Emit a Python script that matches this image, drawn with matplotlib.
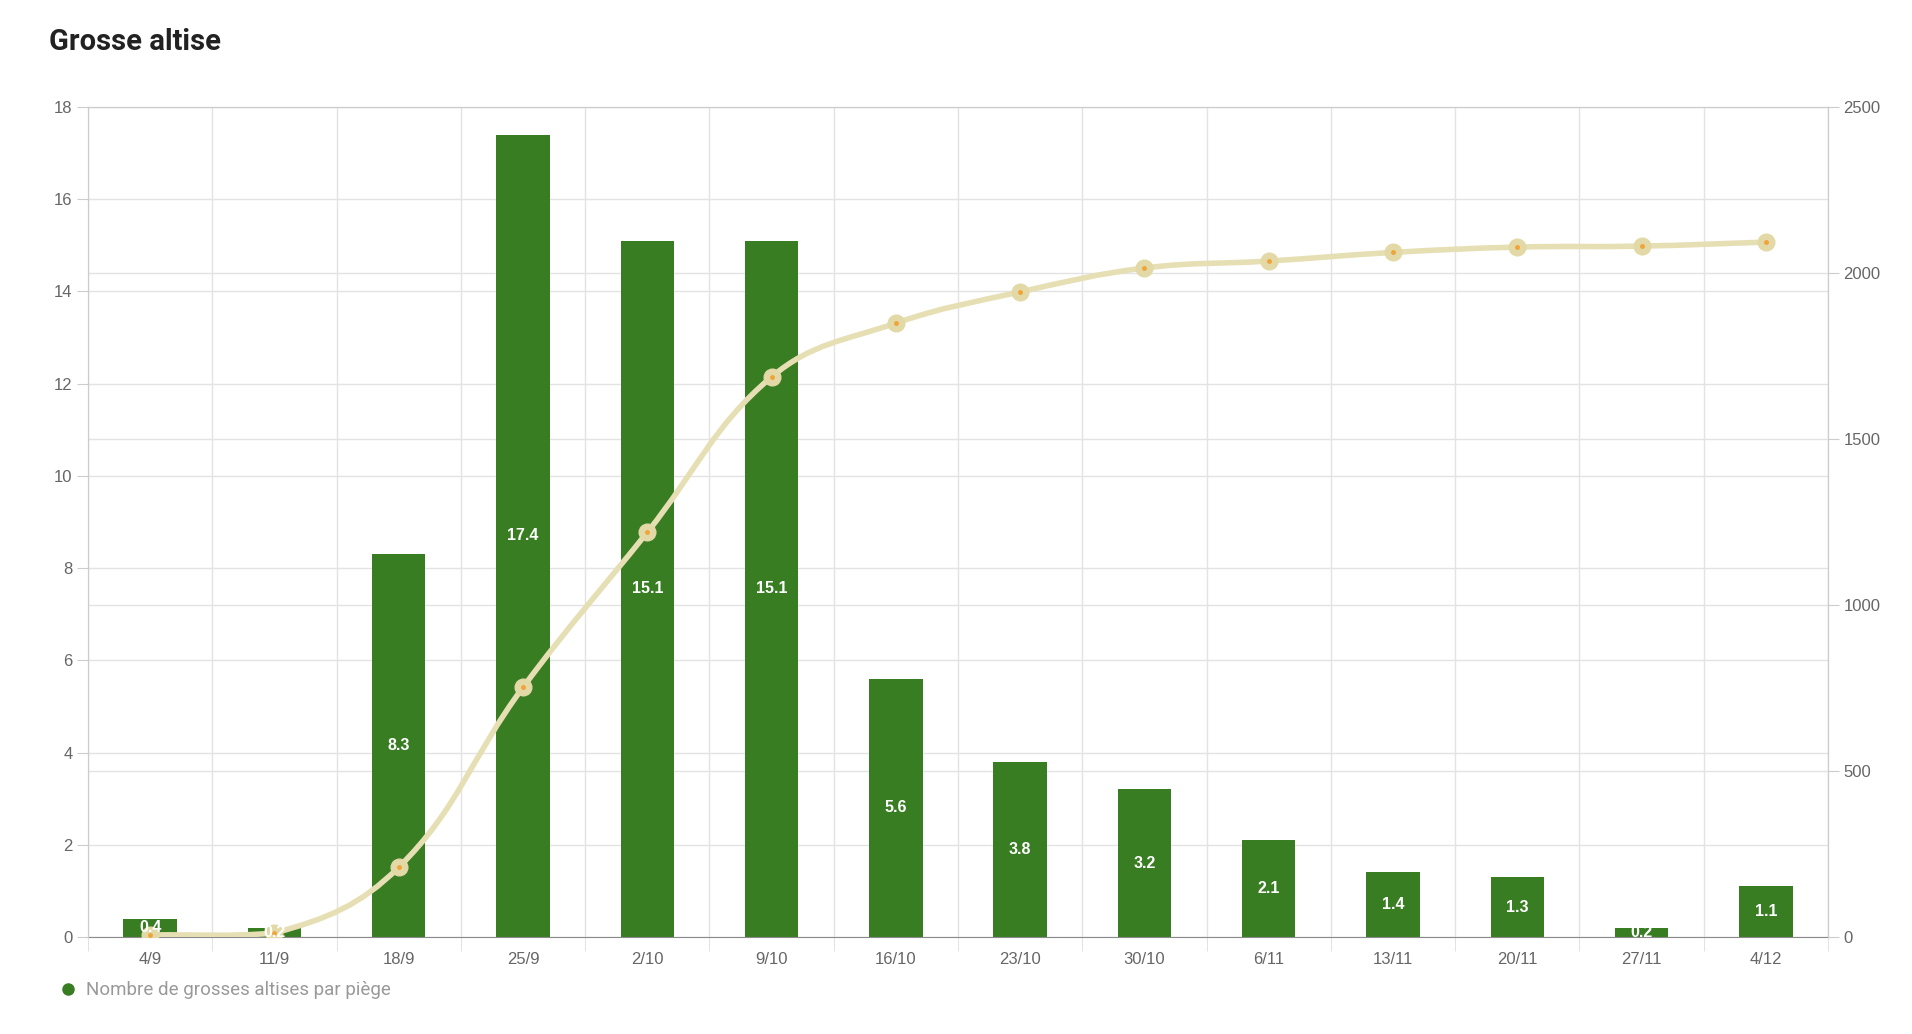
"""
Grosse altise - captures hebdomadaires (barres) et cumul (courbe)
"""
import numpy as np
import matplotlib
matplotlib.use("Agg")
import matplotlib.pyplot as plt
from matplotlib.path import Path
from matplotlib.patches import PathPatch
from matplotlib.lines import Line2D
from matplotlib.transforms import blended_transform_factory

# ── données
dates = ["4/9", "11/9", "18/9", "25/9", "2/10", "9/10", "16/10",
         "23/10", "30/10", "6/11", "13/11", "20/11", "27/11", "4/12"]
captures = [0.4, 0.2, 8.3, 17.4, 15.1, 15.1, 5.6,
            3.8, 3.2, 2.1, 1.4, 1.3, 0.2, 1.1]
cumul = [6, 12, 210, 752, 1219, 1687, 1849,
         1943, 2015, 2036, 2062, 2078, 2081, 2093]

left_ticks = list(range(0, 19, 2))
right_ticks = list(range(0, 2501, 500))

BAR = "#387D22"
LINE = "#E6DFB4"
MARK = "#E2D9A6"
DOT = "#F0A43A"
GRID = "#E3E3E3"
TXT = "#666666"

W, H = 1912, 1034
fig = plt.figure(figsize=(W / 100, H / 100), dpi=100)
fig.patch.set_facecolor("white")
ax = fig.add_axes([88 / W, 1 - 937 / H, (1828 - 88) / W, (937 - 107) / H])
ax2 = ax.twinx()

x = np.arange(len(dates))
ax.set_xlim(-0.5, len(dates) - 0.5)
ax.set_ylim(0, 18)
ax2.set_ylim(0, 2500)

# grilles (toutes sous les barres)
ax.set_axisbelow(True)
ax.set_yticks(left_ticks)
ax.grid(axis="y", color=GRID, lw=1)
ax.set_xticks(np.arange(-0.5, len(dates)), minor=True)
ax.grid(axis="x", which="minor", color=GRID, lw=1)
ax.grid(axis="x", which="major", visible=False)
tr = blended_transform_factory(ax.transAxes, ax2.transData)
for v in right_ticks[1:-1]:
    ax.plot([0, 1], [v, v], transform=tr, color=GRID, lw=1, zorder=0.5)

# barres
bars = ax.bar(x, captures, width=0.43, color=BAR, zorder=2)

# axes / ticks
for s in ["left", "right", "top"]:
    ax.spines[s].set_color("#CCCCCC")
    ax2.spines[s].set_color("#CCCCCC")
ax.spines["bottom"].set_color("#8A8A8A")
ax2.spines["bottom"].set_visible(False)

ax.set_xticks(x)
ax.set_xticklabels(dates)
ax.tick_params(axis="x", which="major", length=0, pad=11, labelsize=12, labelcolor=TXT)
ax.tick_params(axis="x", which="minor", length=10, color="#DDDDDD")
ax.tick_params(axis="y", length=8, color="#CCCCCC", pad=3, labelsize=12, labelcolor=TXT)
ax2.set_yticks(right_ticks)
ax2.tick_params(axis="y", length=8, color="#CCCCCC", pad=3, labelsize=12, labelcolor=TXT)
for lab in ax.get_xticklabels() + ax.get_yticklabels() + ax2.get_yticklabels():
    lab.set_family("Liberation Sans")

# courbe lissée du cumul (bezier façon Chart.js, tension 0.4)
pts = ax2.transData.transform(np.column_stack([x, cumul]))
n = len(pts)
t = 0.4
cp_prev = np.zeros_like(pts)
cp_next = np.zeros_like(pts)
for i in range(n):
    p0 = pts[max(i - 1, 0)]
    p1 = pts[i]
    p2 = pts[min(i + 1, n - 1)]
    d01 = np.hypot(*(p1 - p0))
    d12 = np.hypot(*(p2 - p1))
    tot = d01 + d12
    s01 = d01 / tot if tot else 0
    s12 = d12 / tot if tot else 0
    cp_prev[i] = p1 - t * s01 * (p2 - p0)
    cp_next[i] = p1 + t * s12 * (p2 - p0)
bottom_px = ax2.transData.transform((0, 0))[1]
cp_prev[:, 1] = np.maximum(cp_prev[:, 1], bottom_px)
cp_next[:, 1] = np.maximum(cp_next[:, 1], bottom_px)

verts = [pts[0]]
codes = [Path.MOVETO]
for i in range(n - 1):
    verts += [cp_next[i], cp_prev[i + 1], pts[i + 1]]
    codes += [Path.CURVE4] * 3
verts = ax2.transData.inverted().transform(np.array(verts))
ax2.add_patch(PathPatch(Path(verts, codes), facecolor="none", edgecolor=LINE,
                        lw=4, capstyle="round", joinstyle="round", zorder=3))
ax2.plot(x, cumul, ls="none", marker="o", ms=12, mfc=MARK, mec=MARK, zorder=4)
ax2.plot(x, cumul, ls="none", marker="o", ms=2.5, mfc=DOT, mec=DOT, zorder=5)

# étiquettes des barres
for bar, val in zip(bars, captures):
    txt = ax2.text(bar.get_x() + bar.get_width() / 2, bar.get_height() / 2, f"{val:.1f}",
                   transform=ax.transData, ha="center", va="center", color="white",
                   fontsize=11.5, fontweight="bold", family="Liberation Sans", zorder=6)
    txt.set_clip_path(bar)

# titre et légende
fig.text(49 / W, 1 - 42 / H, "Grosse altise", family="Roboto", fontweight="bold",
         fontsize=21, color="#222222", va="center", ha="left")
fig.add_artist(Line2D([68 / W], [1 - 989 / H], marker="o", ms=8, color=BAR,
                      ls="none", transform=fig.transFigure))
fig.text(86 / W, 1 - 990 / H, "Nombre de grosses altises par piège", family="Roboto",
         fontsize=13.5, color="#999999", va="center", ha="left")

fig.savefig("out.png", dpi=100, facecolor="white")
